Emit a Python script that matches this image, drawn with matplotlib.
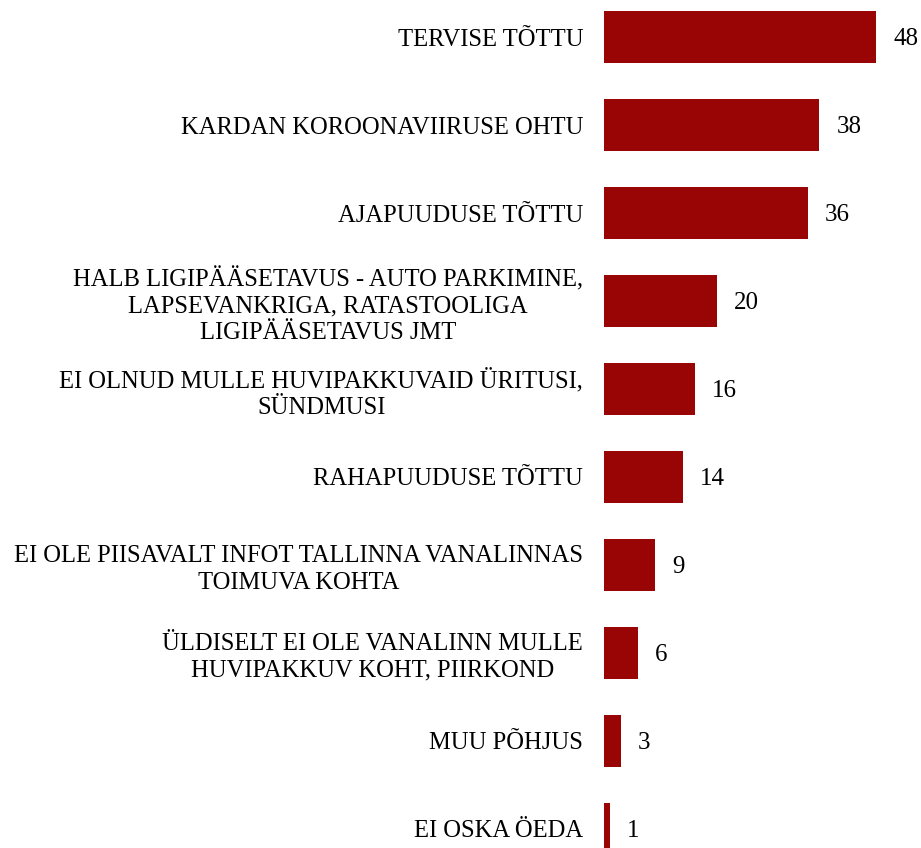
import matplotlib.pyplot as plt
import numpy as np

reasons = [
    "TERVISE TÕTTU",
    "KARDAN KOROONAVIIRUSE OHTU",
    "AJAPUUDUSE TÕTTU",
    "HALB LIGIPÄÄSETAVUS - AUTO PARKIMINE,\nLAPSEVANKRIGA, RATASTOOLIGA\nLIGIPÄÄSETAVUS JMT",
    "EI OLNUD MULLE HUVIPAKKUVAID ÜRITUSI,\nSÜNDMUSI",
    "RAHAPUUDUSE TÕTTU",
    "EI OLE PIISAVALT INFOT TALLINNA VANALINNAS\nTOIMUVA KOHTA",
    "ÜLDISELT EI OLE VANALINN MULLE\nHUVIPAKKUV KOHT, PIIRKOND",
    "MUU PÕHJUS",
    "EI OSKA ÖEDA",
]
values = [48, 38, 36, 20, 16, 14, 9, 6, 3, 1]

BAR_COLOR = "#990505"

plt.rcParams['font.family'] = ['Liberation Serif', 'DejaVu Serif']

fig = plt.figure(figsize=(9.21, 8.48), dpi=100)
ax = fig.add_axes([604 / 921, 0, 1 - 604 / 921, 1])

y = np.arange(len(values))
ax.barh(y, values, height=0.59, color=BAR_COLOR, edgecolor='none')

px_per_unit = 272 / 48
ax.set_xlim(0, (921 - 604) / px_per_unit)
ax.set_ylim((848 - 37) / 88, -37 / 88)

for yi, v in zip(y, values):
    ax.text(v + 17 / px_per_unit, yi + 0.02, str(v), va='center', ha='left', fontsize=18)

ax.set_yticks(y)
ax.set_yticklabels(reasons, fontsize=17.7)
for lab in ax.get_yticklabels():
    lab.set_multialignment('center')
    lab.set_linespacing(1.25)
ax.tick_params(axis='y', length=0, pad=15)
ax.set_xticks([])
for s in ax.spines.values():
    s.set_visible(False)

fig.savefig('out.png', dpi=100)
